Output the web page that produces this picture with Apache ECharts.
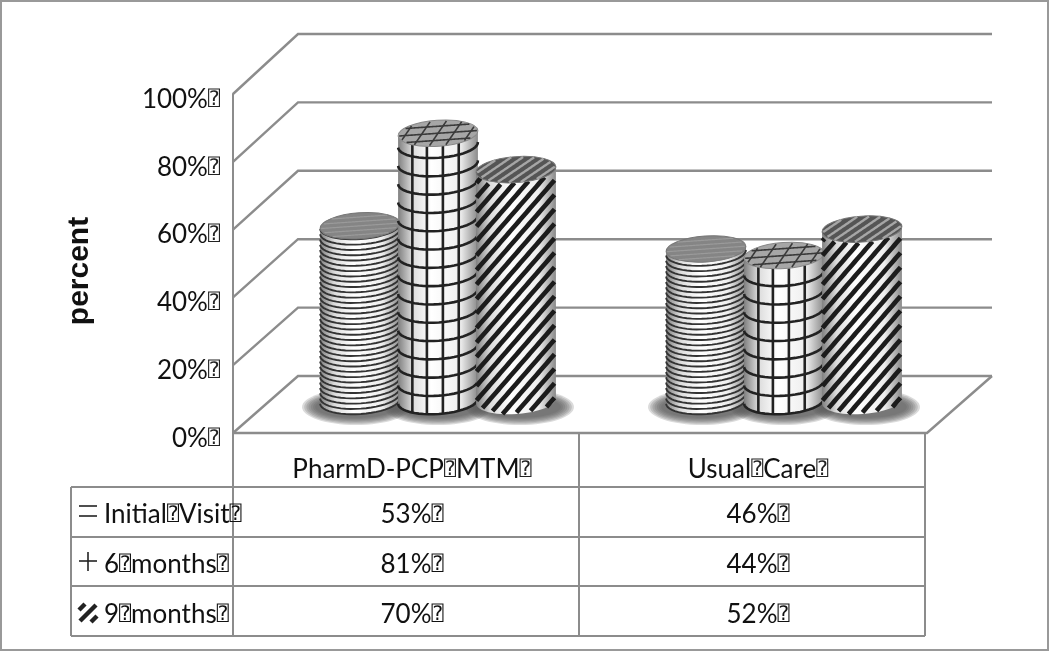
<!DOCTYPE html>
<html>
<head>
<meta charset="utf-8">
<style>
  html, body { margin: 0; padding: 0; background: #fff; }
  #chart { width: 1050px; height: 651px; }
</style>
<script src="https://cdn.jsdelivr.net/npm/echarts@6/dist/echarts.min.js"></script>
</head>
<body>
<div id="chart"></div>
<script>
  var BOX = '⍰';
  var categories = ['PharmD-PCP' + BOX + 'MTM' + BOX, 'Usual' + BOX + 'Care' + BOX];
  var rowNames = ['Initial' + BOX + 'Visit' + BOX, '6' + BOX + 'months' + BOX, '9' + BOX + 'months' + BOX];
  var initialVisit = [53, 46];
  var sixMonths = [81, 44];
  var nineMonths = [70, 52];
  var tickValues = [0, 20, 40, 60, 80, 100];

  var rowValues = [initialVisit, sixMonths, nineMonths];
  var rowY = [515, 565, 615];
  var lineGrey = '#8c8c8c';
  var textFont = 'Lato, "DejaVu Sans", sans-serif';
  var textSize = 26;
  var boxStyle = {q: {fontSize: 20, fontFamily: '"DejaVu Sans Mono", "DejaVu Sans"', color: '#222'}};

  // 3d look of the box
  var DEPTH_X = 65;
  var RX = 40, RY = 13, TILT = -4 * Math.PI / 180;
  var MID_X = 32, MID_Y = 32, MID_SCALE = 0.975;
  var SLOT = 78;
  var LABEL_SHIFT = 6;

  function withBox(s) {
    return s.split(BOX).join('{q|' + BOX + '}');
  }

  function tilted(cx, cy, u, v) {
    return [
      cx + u * Math.cos(TILT) - v * Math.sin(TILT),
      cy + u * Math.sin(TILT) + v * Math.cos(TILT)
    ];
  }

  function ringPoint(cx, cy, theta) {
    return tilted(cx, cy, RX * Math.cos(theta), RY * Math.sin(theta));
  }

  // front half of the ring, left to right
  function frontRing(cx, cy) {
    var pts = [];
    for (var i = 0; i <= 24; i++) pts.push(ringPoint(cx, cy, Math.PI - Math.PI * i / 24));
    return pts;
  }

  function polyline(pts, color, width, z2) {
    return {
      type: 'polyline',
      z2: z2 || 2,
      shape: {points: pts},
      style: {stroke: color, lineWidth: width, fill: null}
    };
  }

  // straight lines across the top ellipse, kept inside it
  function topChords(cx, cy, dirU, dirV, pitch, color, width) {
    var out = [];
    var nU = -dirV, nV = dirU;
    for (var k = -10; k <= 10; k++) {
      var pts = [];
      for (var s = -60; s <= 60; s += 1) {
        var u = nU * k * pitch + dirU * s;
        var v = nV * k * pitch + dirV * s;
        if (u * u / (RX * RX) + v * v / (RY * RY) <= 0.97) pts.push(tilted(cx, cy, u, v));
      }
      if (pts.length > 1) out.push(polyline(pts, color, width, 5));
    }
    return out;
  }

  function bodyShape(cx, top, base) {
    var pts = frontRing(cx, base);
    var up = frontRing(cx, top).reverse();
    return pts.concat(up);
  }

  // y of the front rim at local u, for a ring centred at cy
  function rimY(cx, cy, u) {
    var theta = Math.acos(Math.max(-1, Math.min(1, u / RX)));
    return ringPoint(cx, cy, theta)[1];
  }

  var cylinderStyle = [
    function (cx, top, base, out) {
      for (var y = base; y > top; y -= 5.3) out.push(polyline(frontRing(cx, y), '#333', 1.9));
      out.push({type: 'ellipse', z2: 4, x: cx, y: top, rotation: -TILT,
        shape: {cx: 0, cy: 0, rx: RX, ry: RY}, style: {fill: '#858585', stroke: '#777', lineWidth: 1}});
      return out.concat(topChords(cx, top, 1, 0, 4.4, '#9a9a9a', 1.2));
    },
    function (cx, top, base, out) {
      for (var y = base; y > top; y -= 18.3) out.push(polyline(frontRing(cx, y), '#222', 2.6));
      [-0.66, -0.3, 0.1, 0.5].forEach(function (f) {
        var theta = Math.acos(f);
        out.push(polyline([ringPoint(cx, top, theta), ringPoint(cx, base, theta)], '#222', 2.6));
      });
      out.push({type: 'ellipse', z2: 4, x: cx, y: top, rotation: -TILT,
        shape: {cx: 0, cy: 0, rx: RX, ry: RY}, style: {fill: '#a6a6a6', stroke: '#888', lineWidth: 1}});
      out = out.concat(topChords(cx, top, 1, 0, 7, '#3a3a3a', 1.6));
      return out.concat(topChords(cx, top, 0.62, -0.78, 13, '#3a3a3a', 1.6));
    },
    function (cx, top, base, out) {
      var slope = 1.15, pitch = 14.5;
      for (var y0 = base + 70; y0 > top - 70; y0 -= pitch) {
        var pts = [];
        for (var u = -RX + 0.5; u <= RX - 0.5; u += 2) {
          var y = y0 - slope * u;
          if (y <= rimY(cx, base, u) && y >= rimY(cx, top, u)) pts.push([cx + u, y]);
        }
        if (pts.length > 1) out.push(polyline(pts, '#1c1c1c', 4.6));
      }
      out.push({type: 'ellipse', z2: 4, x: cx, y: top, rotation: -TILT,
        shape: {cx: 0, cy: 0, rx: RX, ry: RY}, style: {fill: '#555', stroke: '#777', lineWidth: 1}});
      return out.concat(topChords(cx, top, 0.86, -0.5, 6.5, '#a6a6a6', 2.4));
    }
  ];

  function cylinderGeom(api, slot) {
    var c = api.coord([api.value(0), api.value(1)]);
    var zero = api.coord([api.value(0), 0]);
    var base = zero[1] - MID_Y;
    return {
      cx: zero[0] + MID_X + slot * SLOT,
      base: base,
      top: base - (zero[1] - c[1]) * MID_SCALE
    };
  }

  function makeCylinder(slot) {
    return function (params, api) {
      var g = cylinderGeom(api, slot);
      var out = [{
        type: 'polygon',
        z2: 1,
        shape: {points: bodyShape(g.cx, g.top, g.base)},
        style: {
          fill: new echarts.graphic.LinearGradient(0, 0, 1, 0, [
            {offset: 0, color: '#808080'},
            {offset: 0.18, color: '#dcdcdc'},
            {offset: 0.42, color: '#ffffff'},
            {offset: 0.78, color: '#eeeeee'},
            {offset: 1, color: '#8a8a8a'}
          ])
        }
      }];
      out = cylinderStyle[slot + 1](g.cx, g.top, g.base, out);
      return {type: 'group', children: out};
    };
  }

  // soft floor shadow, stacked thin ellipses
  function makeShadow(slot) {
    return function (params, api) {
      var g = cylinderGeom(api, slot);
      var out = [];
      for (var i = 0; i < 7; i++) {
        out.push({
          type: 'ellipse',
          shape: {cx: g.cx + slot * 4, cy: g.base + 6, rx: RX + 14 - i * 2.2, ry: RY + 5 - i * 1.2},
          style: {fill: 'rgba(90,90,90,0.22)'}
        });
      }
      return {type: 'group', children: out};
    };
  }

  function wallRender(params, api) {
    var v = api.value(0);
    var p = api.coord([0, v]);
    var left = params.coordSys.x, right = params.coordSys.x + params.coordSys.width;
    var rise = 57 + v * 0.03;
    var out = [polyline([[left, p[1]], [left + DEPTH_X, p[1] - rise], [right + 2 + DEPTH_X, p[1] - rise]], lineGrey, 2.4)];
    if (v === 0) {
      out.push(polyline([[left, p[1]], [right + 2, p[1]], [right + 2 + DEPTH_X, p[1] - rise]], lineGrey, 2.4));
    }
    return {type: 'group', children: out};
  }

  function tableRender(params, api) {
    var c = api.value(0), r = api.value(1);
    var x = api.coord([c, 0])[0] + LABEL_SHIFT;
    return {
      type: 'text',
      style: {
        x: x,
        y: rowY[r],
        text: withBox(rowValues[r][c] + '%' + BOX),
        align: 'center',
        verticalAlign: 'middle',
        fontFamily: textFont,
        fontSize: textSize,
        fill: '#111',
        rich: boxStyle
      }
    };
  }

  function pairs(values) {
    return values.map(function (v, i) { return [i, v]; });
  }

  var tableData = [];
  rowValues.forEach(function (row, r) {
    row.forEach(function (v, c) { tableData.push([c, r]); });
  });

  var series = [{
    type: 'custom',
    name: 'walls',
    z: 1,
    silent: true,
    renderItem: wallRender,
    encode: {y: 0},
    data: tickValues.map(function (t) { return [t]; })
  }];
  rowValues.forEach(function (row, i) {
    series.push({type: 'custom', name: 'shadow' + i, z: 2, silent: true, renderItem: makeShadow(i - 1), data: pairs(row)});
  });
  rowValues.forEach(function (row, i) {
    series.push({type: 'custom', name: rowNames[i], z: 3 + i, renderItem: makeCylinder(i - 1), data: pairs(row)});
  });
  series.push({type: 'custom', name: 'table', z: 8, silent: true, renderItem: tableRender, data: tableData});

  function tableLine(x1, y1, x2, y2) {
    return {
      type: 'line',
      shape: {x1: x1, y1: y1, x2: x2, y2: y2},
      style: {stroke: lineGrey, lineWidth: 2}
    };
  }

  function keyLine(x1, y1, x2, y2, w) {
    return {
      type: 'line',
      shape: {x1: x1, y1: y1, x2: x2, y2: y2},
      style: {stroke: '#222', lineWidth: w || 1.6}
    };
  }

  var graphics = [
    {type: 'rect', shape: {x: 1, y: 1, width: 1047, height: 649}, style: {fill: null, stroke: '#999', lineWidth: 2}},
    tableLine(233, 433, 233, 636),
    tableLine(579, 433, 579, 636),
    tableLine(925, 433, 925, 636),
    tableLine(71, 487, 925, 487),
    tableLine(71, 537, 925, 537),
    tableLine(71, 586, 925, 586),
    tableLine(71, 636, 925, 636),
    tableLine(71, 487, 71, 636),
    keyLine(79, 506, 97, 506),
    keyLine(79, 516, 97, 516),
    keyLine(79, 561, 97, 561),
    keyLine(88, 552, 88, 571),
    keyLine(80, 621, 96, 605, 4.5),
    keyLine(79, 610, 85, 604, 4.5),
    keyLine(91, 622, 97, 616, 4.5),
    {
      type: 'text',
      x: 80,
      y: 271,
      rotation: Math.PI / 2,
      style: {
        text: 'percent',
        align: 'center',
        verticalAlign: 'middle',
        fontFamily: '"Liberation Sans", Arial, sans-serif',
        fontWeight: 'bold',
        fontSize: 30,
        fill: '#111'
      }
    }
  ];
  rowNames.forEach(function (name, i) {
    graphics.push({
      type: 'text',
      x: 104,
      y: rowY[i],
      style: {
        text: withBox(name),
        verticalAlign: 'middle',
        fontFamily: textFont,
        fontSize: textSize,
        fill: '#111',
        rich: boxStyle
      }
    });
  });

  var chart = echarts.init(document.getElementById('chart'), null, {renderer: 'canvas'});
  chart.setOption({
    animation: false,
    backgroundColor: '#fff',
    grid: {left: 233, top: 94, width: 692, height: 339},
    xAxis: {
      type: 'category',
      data: categories,
      axisLine: {show: false},
      axisTick: {show: false},
      axisLabel: {
        interval: 0,
        hideOverlap: false,
        margin: 24,
        padding: [0, 0, 0, LABEL_SHIFT * 2],
        fontFamily: textFont,
        fontSize: textSize,
        color: '#111',
        rich: boxStyle,
        formatter: function (v) { return withBox(v); }
      }
    },
    yAxis: {
      type: 'value',
      min: 0,
      max: 100,
      interval: 20,
      axisLine: {show: true, lineStyle: {color: lineGrey, width: 2}},
      axisTick: {show: false},
      splitLine: {show: false},
      axisLabel: {
        margin: 13,
        padding: [11, 0, 0, 0],
        fontFamily: textFont,
        fontSize: textSize,
        color: '#111',
        rich: boxStyle,
        formatter: function (v) { return v + '%{q|' + BOX + '}'; }
      }
    },
    graphic: graphics,
    series: series
  });
</script>
</body>
</html>
